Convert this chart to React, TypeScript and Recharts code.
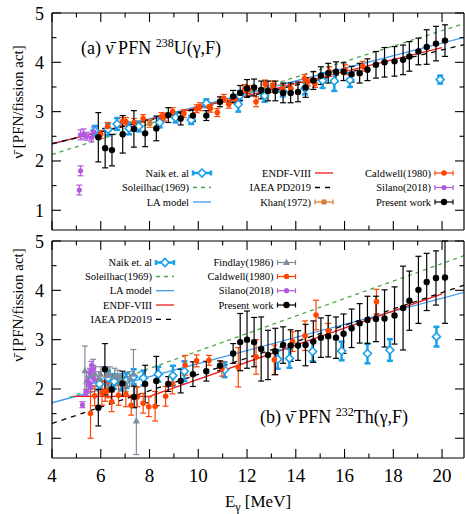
import React from 'react';
import { ComposedChart, Scatter, Line, XAxis, YAxis, ErrorBar } from 'recharts';

const FONT = '"Liberation Serif", "DejaVu Serif", "Times New Roman", serif';

// axis ticks
const xTicks = [4, 5, 6, 7, 8, 9, 10, 11, 12, 13, 14, 15, 16, 17, 18, 19, 20];
const xTickLabels = [4, 6, 8, 10, 12, 14, 16, 18, 20];
const yTicks = [1, 1.5, 2, 2.5, 3, 3.5, 4, 4.5, 5];
const yTickLabels = [1, 2, 3, 4, 5];

// panel (a) 238U(γ,F): [E, nu, err, errUp?]
const presentA = [
  [5.9, 2.48, 0.5], [6.18, 2.26, 0.4], [6.46, 2.22, 0.32], [6.9, 2.54, 0.38], [7.36, 2.65, 0.37],
  [7.82, 2.56, 0.27], [8.28, 2.66, 0.25], [8.77, 2.93, 0.15], [9.28, 2.86, 0.13], [9.78, 2.92, 0.12],
  [10.33, 2.92, 0.1], [10.89, 3.2, 0.1], [11.43, 3.31, 0.12], [11.72, 3.38, 0.15], [12.0, 3.47, 0.18],
  [12.29, 3.49, 0.17], [12.58, 3.44, 0.18], [12.86, 3.42, 0.2], [13.16, 3.42, 0.2], [13.48, 3.38, 0.2],
  [13.79, 3.38, 0.2], [14.09, 3.4, 0.2], [14.4, 3.49, 0.2], [14.72, 3.63, 0.18], [15.03, 3.73, 0.18],
  [15.33, 3.78, 0.2], [15.65, 3.81, 0.2], [15.96, 3.81, 0.18], [16.29, 3.76, 0.16], [16.62, 3.78, 0.2],
  [16.94, 3.85, 0.22], [17.29, 3.95, 0.27], [17.64, 4.0, 0.3], [18.05, 4.02, 0.3], [18.4, 4.05, 0.3],
  [18.66, 4.12, 0.3], [19.03, 4.22, 0.27], [19.37, 4.31, 0.35], [19.75, 4.38, 0.35], [20.12, 4.44, 0.32],
];
const caldwellA = [
  [6.0, 2.54, 0.08], [6.28, 2.7, 0.08], [6.89, 2.8, 0.08], [7.03, 2.8, 0.08], [7.37, 2.78, 0.08],
  [7.74, 2.86, 0.08], [8.49, 2.9, 0.08], [8.6, 2.89, 0.08], [8.95, 3.0, 0.08], [9.41, 2.96, 0.08],
  [9.93, 3.06, 0.08], [10.07, 3.1, 0.08], [10.44, 3.1, 0.08], [10.5, 3.07, 0.08], [10.78, 2.98, 0.08],
  [11.05, 3.27, 0.08], [11.25, 3.15, 0.08], [11.5, 3.25, 0.08], [11.91, 3.47, 0.08], [12.05, 3.45, 0.08],
  [12.37, 3.2, 0.1], [12.74, 3.56, 0.08], [13.05, 3.54, 0.08], [13.1, 3.47, 0.08], [13.46, 3.47, 0.08],
  [13.8, 3.47, 0.08], [14.36, 3.67, 0.08], [14.5, 3.6, 0.08], [14.79, 3.57, 0.08], [15.38, 3.81, 0.1],
  [16.02, 3.85, 0.1], [16.74, 3.92, 0.1],
];
const naikA = [
  [5.76, 2.61, 0.1], [6.3, 2.64, 0.12], [6.67, 2.75, 0.12], [7.16, 2.66, 0.12], [7.56, 2.7, 0.1],
  [8.42, 2.78, 0.1], [9.07, 2.88, 0.1], [9.71, 2.83, 0.08], [10.33, 3.17, 0.08], [11.64, 3.15, 0.15],
  [11.7, 3.32, 0.1], [12.72, 3.32, 0.12], [13.47, 3.41, 0.1], [14.38, 3.47, 0.12], [15.1, 3.63, 0.15],
  [15.58, 3.62, 0.2], [16.22, 3.64, 0.14], [19.92, 3.65, 0.08],
];
const silanoA = [
  [5.17, 2.53, 0.1], [5.3, 2.55, 0.1], [5.43, 2.5, 0.08], [5.62, 2.47, 0.08], [5.72, 2.59, 0.1],
  [5.17, 1.8, 0.1], [5.12, 1.41, 0.1],
];
const khanA = [[8.01, 2.76, 0.08]];
const soleilhacA = [[4, 2.13], [21, 4.8]];
const laModelA = [[4, 2.34], [21, 4.52]];
const endfA = [[4, 2.35], [20, 4.3]];
const iaeaA = [[4, 2.35], [21, 4.37]];

// panel (b) 232Th(γ,F)
const presentB = [
  [5.9, 1.62, 0.37], [6.17, 2.4, 0.52], [6.45, 1.99, 0.28], [6.89, 2.11, 0.25], [7.37, 1.84, 0.22],
  [7.82, 2.1, 0.38], [8.28, 2.16, 0.5], [8.77, 2.1, 0.15], [9.28, 2.16, 0.24], [9.78, 2.3, 0.25],
  [10.33, 2.36, 0.2], [10.89, 2.47, 0.1], [11.43, 2.72, 0.2], [11.72, 2.95, 0.58], [12.0, 3.0, 0.58],
  [12.29, 2.95, 0.5], [12.58, 2.81, 0.65], [12.86, 2.69, 0.5], [13.16, 2.76, 0.47], [13.48, 2.89, 0.37],
  [13.79, 2.88, 0.32], [14.09, 2.88, 0.3], [14.4, 2.89, 0.42], [14.72, 2.96, 0.42], [15.03, 3.04, 0.4],
  [15.33, 3.07, 0.42], [15.65, 3.04, 0.42], [15.96, 3.12, 0.4], [16.29, 3.23, 0.39], [16.62, 3.33, 0.4],
  [16.94, 3.4, 0.48], [17.29, 3.42, 0.46], [17.64, 3.43, 0.58], [18.05, 3.49, 0.58], [18.4, 3.64, 0.85],
  [18.66, 3.79, 0.6], [19.03, 4.01, 0.68], [19.37, 4.17, 0.58], [19.75, 4.25, 0.55], [20.12, 4.26, 0.93, 0.74],
];
const caldwellB = [
  [5.58, 1.5, 0.5], [5.75, 1.86, 0.2], [6.05, 1.92, 0.25], [6.18, 1.95, 0.2], [6.3, 1.97, 0.15],
  [6.45, 1.74, 0.2], [6.73, 1.87, 0.2], [7.03, 1.89, 0.25], [7.25, 1.67, 0.2], [7.5, 1.84, 0.2],
  [7.74, 1.71, 0.2], [7.97, 1.64, 0.2], [8.23, 1.65, 0.3], [8.66, 1.85, 0.2], [8.94, 2.1, 0.2],
  [9.46, 2.48, 0.2], [9.93, 2.57, 0.12], [10.44, 2.58, 0.1], [10.97, 2.41, 0.15], [11.64, 2.44, 0.4],
  [12.37, 2.65, 0.35], [13.12, 2.59, 0.3], [13.87, 2.96, 0.2], [14.38, 3.08, 0.3], [14.83, 3.5, 0.3],
  [15.33, 3.18, 0.15], [17.31, 3.77, 0.25],
];
const naikB = [
  [5.58, 2.16, 0.1], [5.95, 2.1, 0.1], [6.3, 2.22, 0.15], [6.55, 2.15, 0.15], [6.85, 2.12, 0.15],
  [7.05, 2.17, 0.15], [7.35, 2.25, 0.15], [7.75, 2.22, 0.15], [8.36, 2.3, 0.15], [8.96, 2.27, 0.2],
  [9.43, 2.36, 0.2], [11.08, 2.39, 0.15], [13.26, 2.6, 0.19], [13.74, 2.62, 0.19], [14.69, 2.76, 0.2],
  [15.88, 2.77, 0.19], [16.94, 2.72, 0.2], [17.86, 2.79, 0.22], [19.77, 3.06, 0.2],
];
const findlayB = [
  [5.35, 2.37, 0.5], [5.42, 2.16, 0.2], [5.56, 2.27, 0.15], [5.69, 2.45, 0.15], [5.76, 2.3, 0.15],
  [5.9, 2.2, 0.15], [6.0, 2.3, 0.15], [6.24, 2.27, 0.15], [6.37, 2.3, 0.15], [6.57, 2.27, 0.15],
  [6.7, 2.23, 0.15], [6.84, 2.16, 0.15], [7.02, 2.1, 0.15], [7.18, 2.2, 0.15], [7.34, 2.3, 0.5],
  [7.46, 1.35, 0.68],
];
const silanoB = [
  [5.25, 1.68, 0.06], [5.39, 1.93, 0.06], [5.48, 2.16, 0.08], [5.54, 2.12, 0.08], [5.56, 2.33, 0.08],
  [5.62, 2.48, 0.08], [5.69, 2.4, 0.08], [5.72, 2.2, 0.08], [5.58, 2.03, 0.08],
];
const soleilhacB = [[4.7, 1.83], [21, 4.72]];
const laModelB = [[4, 1.72], [21, 3.97]];
const endfB = [[4.87, 1.85], [8.0, 1.85], [20.0, 3.93]];
const iaeaB = [[4, 1.3], [21, 4.12]];

const C = {
  present: '#000000',
  caldwell: '#FF4500',
  naik: '#1AA0E8',
  soleilhac: '#4CA64C',
  la: '#4499EE',
  endf: '#F01818',
  iaea: '#000000',
  silano: '#B45AE0',
  findlay: '#7F8C9C',
  khan: '#D87A30',
};

// errUp is given where the bar is cut by the frame
const pts = (arr: number[][]) =>
  arr.map(([e, v, err, errUp]) => ({ e, v, err: errUp != null ? [err, errUp] : err }));

const dot = (r: number, fill: string) => (p: any) => <circle cx={p.cx} cy={p.cy} r={r} fill={fill} />;
const diamond = (p: any) => (
  <polygon
    points={`${p.cx},${p.cy - 4} ${p.cx + 4},${p.cy} ${p.cx},${p.cy + 4} ${p.cx - 4},${p.cy}`}
    fill="#fff" stroke={C.naik} strokeWidth={1.6}
  />
);
const triangle = (p: any) => (
  <polygon points={`${p.cx},${p.cy - 4} ${p.cx + 3.5},${p.cy + 2.5} ${p.cx - 3.5},${p.cy + 2.5}`} fill={C.findlay} />
);
const square = (p: any) => <rect x={p.cx - 2.5} y={p.cy - 2.5} width={5} height={5} fill={C.khan} />;

const axisStroke = { stroke: '#000', strokeWidth: 1.2 };

function XTick({ x, y, payload, side, labels }: any) {
  const v = payload.value;
  const major = xTickLabels.includes(v);
  const len = major ? 9 : 4.5;
  const dir = side === 'top' ? 1 : -1;
  return (
    <g>
      <line x1={x} x2={x} y1={y} y2={y + dir * len} stroke="#000" strokeWidth={1.1} />
      {labels && major && (
        <text x={x} y={y + 24} textAnchor="middle" fontFamily={FONT} fontSize={19} fill="#000">{v}</text>
      )}
    </g>
  );
}

function YTick({ x, y, payload, side }: any) {
  const v = payload.value;
  const major = yTickLabels.includes(v);
  const len = major ? 9 : 4.5;
  const dir = side === 'left' ? 1 : -1;
  return (
    <g>
      <line x1={x} x2={x + dir * len} y1={y} y2={y} stroke="#000" strokeWidth={1.1} />
      {side === 'left' && major && (
        <text x={x - 8} y={y + 6.5} textAnchor="end" fontFamily={FONT} fontSize={18} fill="#000">{v}</text>
      )}
    </g>
  );
}

// axes take 1px each so that they are drawn; margins account for it
function Panel({ height, margin, showX, children }: any) {
  const xDomain = [4, 20.9];
  const yDomain = [0.6, 5];
  return (
    <ComposedChart width={465} height={height} margin={margin}>
      <XAxis
        dataKey="e" type="number" domain={xDomain} allowDataOverflow ticks={xTicks} interval={0}
        height={1} tickSize={0} tickMargin={0} tickLine={false} axisLine={axisStroke}
        tick={(p: any) => <XTick {...p} side="bottom" labels={showX} />}
      />
      <XAxis
        xAxisId="top" orientation="top" dataKey="e" type="number" domain={xDomain} allowDataOverflow
        ticks={xTicks} interval={0} height={1} tickSize={0} tickMargin={0} tickLine={false} axisLine={axisStroke}
        tick={(p: any) => <XTick {...p} side="top" />}
      />
      <YAxis
        type="number" domain={yDomain} allowDataOverflow ticks={yTicks} interval={0}
        width={1} tickSize={0} tickMargin={0} tickLine={false} axisLine={axisStroke}
        tick={(p: any) => <YTick {...p} side="left" />}
      />
      <YAxis
        yAxisId="right" orientation="right" type="number" domain={yDomain} allowDataOverflow ticks={yTicks}
        interval={0} width={1} tickSize={0} tickMargin={0} tickLine={false} axisLine={axisStroke}
        tick={(p: any) => <YTick {...p} side="right" />}
      />
      {children}
    </ComposedChart>
  );
}

const errScatter = (key: string, data: number[][], color: string, shape: any, barW = 1.2, cap = 3) => (
  <Scatter key={key} data={pts(data)} dataKey="v" shape={shape} isAnimationActive={false}>
    <ErrorBar dataKey="err" direction="y" width={cap} stroke={color} strokeWidth={barW} />
  </Scatter>
);

const modelLine = (key: string, data: number[][], color: string, dash?: string) => (
  <Line
    key={key} data={pts(data)} dataKey="v" type="linear" stroke={color} strokeWidth={1.3}
    strokeDasharray={dash} dot={false} activeDot={false} isAnimationActive={false}
  />
);

// legend sample for an error-bar series
function ErrSample({ x1, x2, y, color, marker, thick }: any) {
  const cx = (x1 + x2) / 2;
  const w = thick ? 2.5 : 1.2;
  return (
    <g>
      <line x1={x1} x2={x2} y1={y} y2={y} stroke={color} strokeWidth={w} />
      <line x1={x1} x2={x1} y1={y - 2.5} y2={y + 2.5} stroke={color} strokeWidth={w} />
      <line x1={x2} x2={x2} y1={y - 2.5} y2={y + 2.5} stroke={color} strokeWidth={w} />
      {marker({ cx, cy: y })}
    </g>
  );
}

function LegendRow({ right, y, label, kind, color, dash, marker, thick }: any) {
  const x1 = right + 4;
  const x2 = right + 22;
  return (
    <g>
      <text x={right} y={y + 3.5} textAnchor="end" fontFamily={FONT} fontSize={10.5} fill="#000">{label}</text>
      {kind === 'line' ? (
        <line x1={x1} x2={x2} y1={y} y2={y} stroke={color} strokeWidth={1.3} strokeDasharray={dash} />
      ) : (
        <ErrSample x1={x1} x2={x2} y={y} color={color} marker={marker} thick={thick} />
      )}
    </g>
  );
}

export default function App() {
  return (
    <div style={{ position: 'absolute', left: 0, top: 0, width: 465, height: 514, background: '#fff' }}>
      <div style={{ position: 'absolute', left: 0, top: 0 }}>
        <Panel height={240} margin={{ top: 12, right: 0, bottom: 9, left: 51 }} showX={false}>
          {modelLine('sol', soleilhacA, C.soleilhac, '4 4')}
          {modelLine('la', laModelA, C.la)}
          {modelLine('endf', endfA, C.endf)}
          {modelLine('iaea', iaeaA, C.iaea, '5 5')}
          {errScatter('naik', naikA, C.naik, diamond, 2.5, 3)}
          {errScatter('khan', khanA, C.khan, square)}
          {errScatter('silano', silanoA, C.silano, dot(2.6, C.silano))}
          {errScatter('cald', caldwellA, C.caldwell, dot(2.8, C.caldwell))}
          {errScatter('pres', presentA, C.present, dot(3.2, C.present))}
        </Panel>
      </div>
      <div style={{ position: 'absolute', left: 0, top: 231 }}>
        <Panel height={283} margin={{ top: 9, right: 0, bottom: 55, left: 51 }} showX={true}>
          {modelLine('sol', soleilhacB, C.soleilhac, '4 4')}
          {modelLine('la', laModelB, C.la)}
          {modelLine('endf', endfB, C.endf)}
          {modelLine('iaea', iaeaB, C.iaea, '5 5')}
          {errScatter('naik', naikB, C.naik, diamond, 2.5, 3)}
          {errScatter('findlay', findlayB, C.findlay, triangle)}
          {errScatter('silano', silanoB, C.silano, dot(2.6, C.silano))}
          {errScatter('cald', caldwellB, C.caldwell, dot(2.8, C.caldwell))}
          {errScatter('pres', presentB, C.present, dot(3.2, C.present))}
        </Panel>
      </div>
      <svg width={465} height={514} style={{ position: 'absolute', left: 0, top: 0, pointerEvents: 'none' }}>
        {/* panel titles */}
        <text x={81} y={54} fontFamily={FONT} fontSize={18} fill="#000">
          (a) ν̄ PFN <tspan fontSize={12} dy={-7}>238</tspan><tspan dy={7}>U(γ,F)</tspan>
        </text>
        <text x={260} y={423} fontFamily={FONT} fontSize={18} fill="#000">
          (b) ν̄ PFN <tspan fontSize={12} dy={-7}>232</tspan><tspan dy={7}>Th(γ,F)</tspan>
        </text>
        {/* axis labels */}
        <text x={23} y={102} transform="rotate(-90 23 102)" textAnchor="middle" fontFamily={FONT} fontSize={15} fill="#000">
          ν̄ [PFN/fission act]
        </text>
        <text x={23} y={305} transform="rotate(-90 23 305)" textAnchor="middle" fontFamily={FONT} fontSize={15} fill="#000">
          ν̄ [PFN/fission act]
        </text>
        <text x={258} y={507} textAnchor="middle" fontFamily={FONT} fontSize={17} fill="#000">
          E<tspan fontSize={12} dy={4}>γ</tspan><tspan dy={-4}> [MeV]</tspan>
        </text>
        {/* legend (a) */}
        <LegendRow right={189} y={173} label="Naik et. al" kind="err" color={C.naik} marker={diamond} thick />
        <LegendRow right={189} y={187.5} label="Soleilhac(1969)" kind="line" color={C.soleilhac} dash="4 4" />
        <LegendRow right={189} y={202} label="LA model" kind="line" color={C.la} />
        <LegendRow right={311} y={173} label="ENDF-VIII" kind="line" color={C.endf} />
        <LegendRow right={311} y={187.5} label="IAEA PD2019" kind="line" color={C.iaea} dash="5 5" />
        <LegendRow right={311} y={202} label="Khan(1972)" kind="err" color={C.khan} marker={square} />
        <LegendRow right={431} y={173} label="Caldwell(1980)" kind="err" color={C.caldwell} marker={dot(2.8, C.caldwell)} />
        <LegendRow right={431} y={187.5} label="Silano(2018)" kind="err" color={C.silano} marker={dot(2.6, C.silano)} />
        <LegendRow right={431} y={202} label="Present work" kind="err" color={C.present} marker={dot(3.2, C.present)} />
        {/* legend (b) */}
        <LegendRow right={152} y={262.5} label="Naik et. al" kind="err" color={C.naik} marker={diamond} thick />
        <LegendRow right={152} y={276.5} label="Soleilhac(1969)" kind="line" color={C.soleilhac} dash="4 4" />
        <LegendRow right={152} y={290.7} label="LA model" kind="line" color={C.la} />
        <LegendRow right={152} y={305} label="ENDF-VIII" kind="line" color={C.endf} />
        <LegendRow right={152} y={319.3} label="IAEA PD2019" kind="line" color={C.iaea} dash="5 5" />
        <LegendRow right={273.5} y={262.5} label="Findlay(1986)" kind="err" color={C.findlay} marker={triangle} />
        <LegendRow right={273.5} y={276.5} label="Caldwell(1980)" kind="err" color={C.caldwell} marker={dot(2.8, C.caldwell)} />
        <LegendRow right={273.5} y={290.7} label="Silano(2018)" kind="err" color={C.silano} marker={dot(2.6, C.silano)} />
        <LegendRow right={273.5} y={305} label="Present work" kind="err" color={C.present} marker={dot(3.2, C.present)} />
      </svg>
    </div>
  );
}
